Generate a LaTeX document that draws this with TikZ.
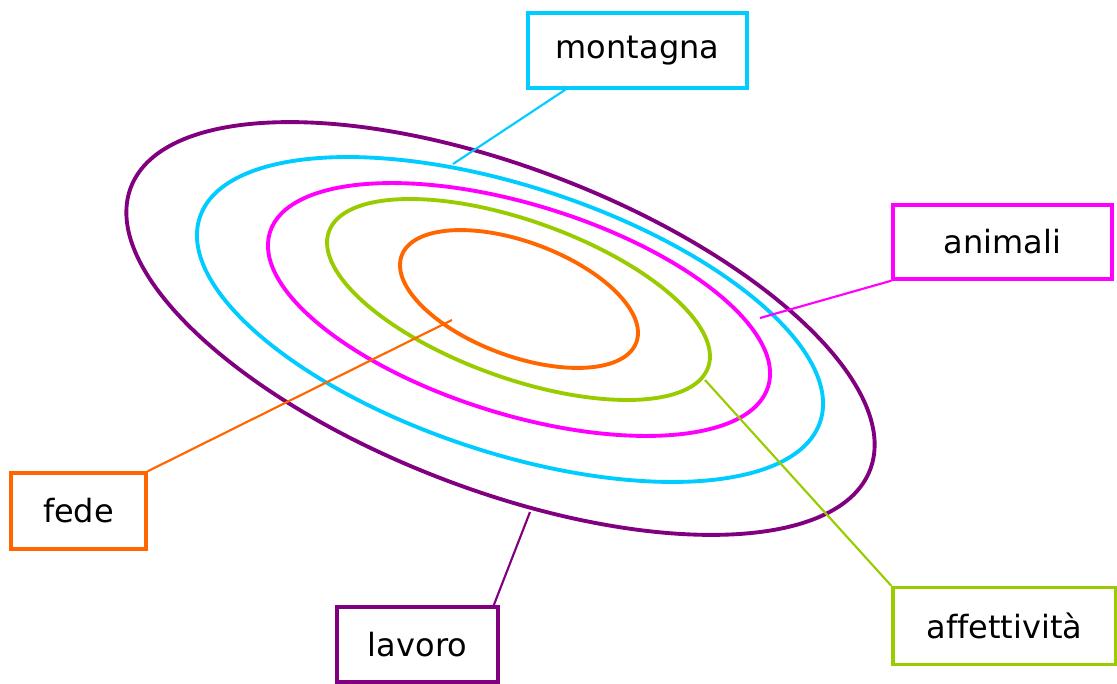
\documentclass[tikz,border=0pt]{standalone}
\usepackage{fontspec}
\setmainfont[Ligatures=NoCommon]{DejaVu Sans}
\usetikzlibrary{calc}
\definecolor{cPurple}{HTML}{800080}
\definecolor{cCyan}{HTML}{00CCFF}
\definecolor{cMagenta}{HTML}{FF00FF}
\definecolor{cGreen}{HTML}{99CC00}
\definecolor{cOrange}{HTML}{FF6600}
\tikzset{
  ring/.style={line width=2.9pt},
  labelbox/.style={line width=2.6pt, inner sep=0pt, fill=white, font=\fontsize{24}{28}\selectfont, text=black},
  conn/.style={line width=1.6pt},
}
\begin{document}
\begin{tikzpicture}[x=0.75pt, y=-0.75pt]
\useasboundingbox (0,0) rectangle (1117,684);
% rings
\draw[ring, cPurple, rotate around={-20.9:(500.5,328.5)}] (500.5,328.5) ellipse [x radius=395.7, y radius=161.2];
\draw[ring, cCyan, rotate around={-18.2:(510,319.5)}] (510,319.5) ellipse [x radius=326.6, y radius=133.1];
\draw[ring, cMagenta, rotate around={-17.2:(519,309.5)}] (519,309.5) ellipse [x radius=260.8, y radius=104.9];
\draw[ring, cGreen, rotate around={-19.7:(518.5,299.5)}] (518.5,299.5) ellipse [x radius=201.4, y radius=78.7];
\draw[ring, cOrange, rotate around={-20.3:(519,299)}] (519,299) ellipse [x radius=125.1, y radius=57.1];
% label boxes
\node[labelbox, draw=cCyan, minimum width=164.25pt, minimum height=56.25pt] (montagna) at (637.5,50.5) {montagna};
\node[labelbox, draw=cMagenta, minimum width=164.25pt, minimum height=55.5pt] (animali) at (1002.5,242) {animali};
\node[labelbox, draw=cOrange, minimum width=101.25pt, minimum height=57pt] (fede) at (78.5,511) {fede};
\node[labelbox, draw=cPurple, minimum width=120.75pt, minimum height=56.25pt] (lavoro) at (417.5,644.5) {lavoro};
\node[labelbox, draw=cGreen, minimum width=167.25pt, minimum height=57.75pt] (affettivita) at (1004.5,626) {affettività};
% connector ends
\coordinate (mEnd) at (453,164);
\coordinate (aEnd) at (760,318);
\coordinate (fEnd) at (452,320);
\coordinate (lEnd) at (530,512);
\coordinate (afEnd) at (705,380);
% connectors
\draw[conn, cCyan] ($(montagna.south west)+(39,0)$) -- (mEnd);
\draw[conn, cMagenta] (animali.south west) -- (aEnd);
\draw[conn, cOrange] (fede.north east) -- (fEnd);
\draw[conn, cPurple] ($(lavoro.north east)+(-6,0)$) -- (lEnd);
\draw[conn, cGreen] (affettivita.north west) -- (afEnd);
\end{tikzpicture}
\end{document}
